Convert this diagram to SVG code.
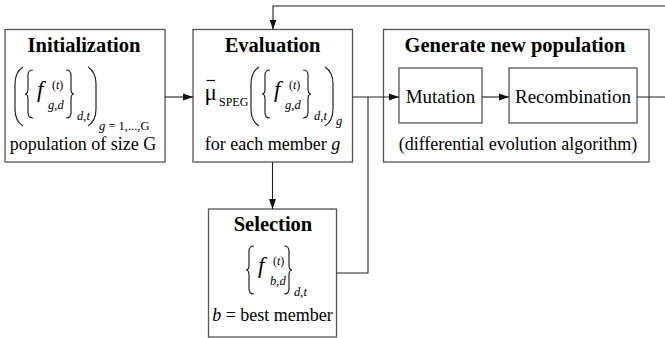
<svg xmlns="http://www.w3.org/2000/svg" xmlns:xlink="http://www.w3.org/1999/xlink" width="665" height="338" viewBox="0 0 665 338">
<style>
.ttl,.lbl,.big,.f,.sup,.sub,.mu,.speg{font-family:'Liberation Serif','DejaVu Serif',serif;fill:#000}
.box{fill:#fff;stroke:#555;stroke-width:1.3}
.ttl{font-weight:bold;font-size:20.5px;text-anchor:middle}
.lbl{font-size:18px;text-anchor:middle}
.big{font-size:19px;text-anchor:middle}
.f{font-style:italic;font-size:23px}
.sup{font-size:12px;font-style:italic}
.sub{font-size:12.5px;font-style:italic}
.mu{font-size:23px}
.speg{font-size:12px}
.rm{font-style:normal}
.fence{fill:none;stroke:#222;stroke-width:1.2}
.conn{fill:none;stroke:#222;stroke-width:1.1}
</style>
<defs>
<path id="lp" class="fence" d="M8,0 Q0,5 0,17 V42 Q0,54 8,59"/>
<path id="rp" class="fence" d="M0,0 Q8,5 8,17 V42 Q8,54 0,59"/>
<path id="lb" class="fence" d="M8,0 Q3,0 3,5 V19 Q3,24 0,24 Q3,24 3,29 V43 Q3,48 8,48"/>
<path id="rb" class="fence" d="M0,0 Q5,0 5,5 V19 Q5,24 8,24 Q5,24 5,29 V43 Q5,48 0,48"/>
<marker id="ah" markerWidth="10" markerHeight="8" refX="10" refY="4" orient="auto" markerUnits="userSpaceOnUse">
<path d="M0,0.5 L10,4 L0,7.5 Z" fill="#111"/>
</marker>
</defs>

<g id="initialization" font-family="Liberation Serif, serif">
<rect class="box" x="5" y="29.5" width="160" height="132.5"/>
<text class="ttl" x="84" y="52">Initialization</text>
<use xlink:href="#lp" x="15" y="67"/>
<use xlink:href="#lb" x="25" y="70"/>
<text class="f" x="37" y="97">f</text>
<text class="sup" x="52" y="89"><tspan class="rm">(</tspan>t<tspan class="rm">)</tspan></text>
<text class="sub" x="48" y="109">g<tspan class="rm">,</tspan>d</text>
<use xlink:href="#rb" x="66" y="70"/>
<text class="sub" x="77" y="120">d<tspan class="rm">,</tspan>t</text>
<use xlink:href="#rp" x="88" y="67"/>
<text class="sub" x="99" y="130">g <tspan class="rm">= 1,...,G</tspan></text>
<text class="lbl" x="83" y="150">population of size G</text>
</g>

<g id="evaluation" font-family="Liberation Serif, serif">
<rect class="box" x="193" y="29.5" width="159.5" height="132.5"/>
<text class="ttl" x="272.5" y="52">Evaluation</text>
<text class="mu" x="204.5" y="100">μ</text>
<line x1="206.5" y1="80.5" x2="215" y2="80.5" stroke="#111" stroke-width="1.2"/>
<text class="speg" x="219" y="106">SPEG</text>
<use xlink:href="#lp" x="251" y="67"/>
<use xlink:href="#lb" x="262" y="70"/>
<text class="f" x="274" y="97">f</text>
<text class="sup" x="289" y="89"><tspan class="rm">(</tspan>t<tspan class="rm">)</tspan></text>
<text class="sub" x="285" y="109">g<tspan class="rm">,</tspan>d</text>
<use xlink:href="#rb" x="303" y="70"/>
<text class="sub" x="314" y="120">d<tspan class="rm">,</tspan>t</text>
<use xlink:href="#rp" x="325" y="67"/>
<text class="sub" x="336" y="125">g</text>
<text class="lbl" x="272.5" y="150">for each member <tspan font-style="italic">g</tspan></text>
</g>

<g id="generate" font-family="Liberation Serif, serif">
<rect class="box" x="383.5" y="29.5" width="265.5" height="132.5"/>
<text class="ttl" x="515" y="52">Generate new population</text>
<text class="lbl" x="518" y="150">(differential evolution algorithm)</text>
</g>

<g id="mutation" font-family="Liberation Serif, serif">
<rect class="box" x="399" y="68" width="83" height="55"/>
<text class="big" x="440.5" y="103">Mutation</text>
</g>

<g id="recombination" font-family="Liberation Serif, serif">
<rect class="box" x="509" y="68" width="128" height="55"/>
<text class="big" x="573" y="103">Recombination</text>
</g>

<g id="selection" font-family="Liberation Serif, serif">
<rect class="box" x="208.5" y="209" width="128" height="128"/>
<text class="ttl" x="273" y="231">Selection</text>
<use xlink:href="#lb" x="246" y="246"/>
<text class="f" x="258" y="273">f</text>
<text class="sup" x="273" y="265"><tspan class="rm">(</tspan>t<tspan class="rm">)</tspan></text>
<text class="sub" x="270" y="285">b<tspan class="rm">,</tspan>d</text>
<use xlink:href="#rb" x="284" y="246"/>
<text class="sub" x="294" y="296">d<tspan class="rm">,</tspan>t</text>
<text class="lbl" x="272.5" y="321"><tspan font-style="italic">b</tspan> = best member</text>
</g>

<g id="connectors">
<path class="conn" d="M165,97 H193" marker-end="url(#ah)"/>
<path class="conn" d="M352.5,97 H399" marker-end="url(#ah)"/>
<path class="conn" d="M482,97 H509" marker-end="url(#ah)"/>
<path class="conn" d="M637,97 H670 V6 H273 V29.5" marker-end="url(#ah)"/>
<path class="conn" d="M272.5,162 V209" marker-end="url(#ah)"/>
<path class="conn" d="M336.5,273 H368 V97"/>
</g>
</svg>
